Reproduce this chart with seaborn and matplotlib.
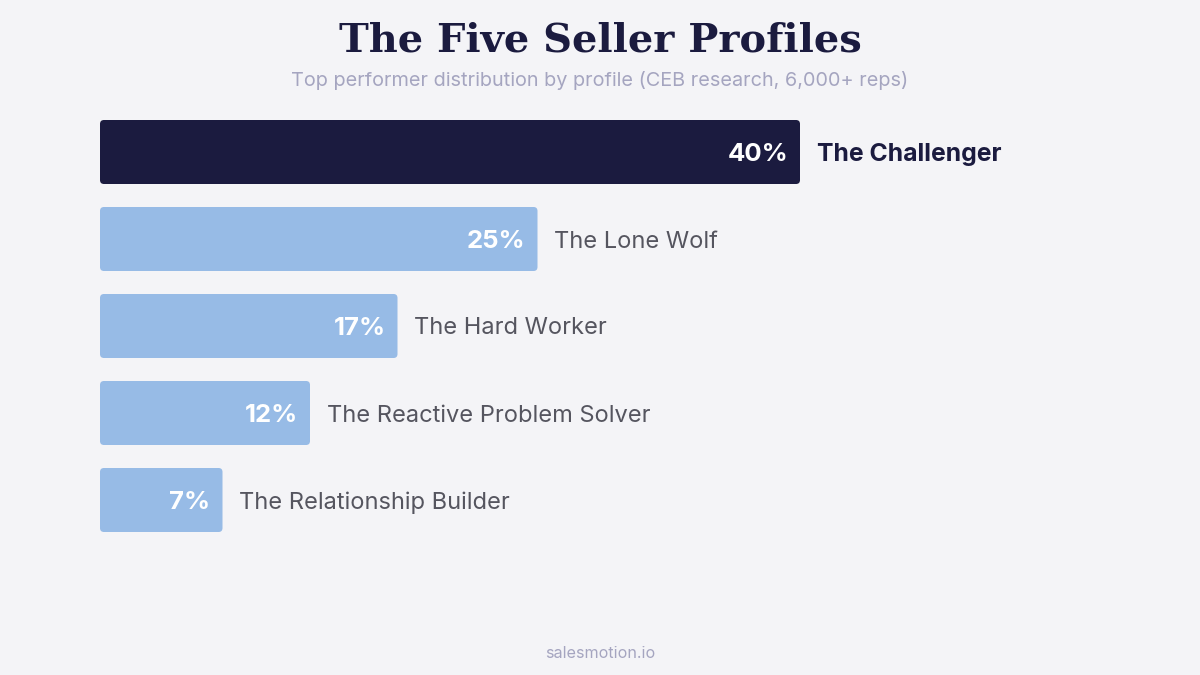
import matplotlib
matplotlib.use("Agg")
import matplotlib.pyplot as plt
import seaborn as sns
import pandas as pd
from matplotlib.patches import FancyBboxPatch

# data
profiles = ["The Challenger", "The Lone Wolf", "The Hard Worker",
            "The Reactive Problem Solver", "The Relationship Builder"]
shares = [40, 25, 17, 12, 7]
highlight = "The Challenger"

BG = "#F4F4F7"
NAVY = "#1B1B3F"
LIGHT = "#97BBE6"
GREY_TXT = "#55555F"
SUB_TXT = "#A5A5C0"

sns.set_theme(style="white")
plt.rcParams["font.family"] = ["Inter", "DejaVu Sans"]

df = pd.DataFrame({"profile": profiles, "share": shares})
palette = {p: (NAVY if p == highlight else LIGHT) for p in profiles}

fig = plt.figure(figsize=(12, 6.75), dpi=100)
fig.patch.set_facecolor(BG)
ax = fig.add_axes([100 / 1200, 1 - 543.5 / 675, 1000 / 1200, 435 / 675])
ax.set_facecolor(BG)

sns.barplot(data=df, x="share", y="profile", hue="profile", palette=palette,
            order=profiles, width=64 / 87, legend=False, ax=ax, saturation=1)

ax.set_xlim(0, 1000 / 17.5)
ax.set_ylim(4.5, -0.5)
ax.axis("off")

# swap the square bars for rounded ones
px_x = 1 / 17.5
px_y = 1 / 87
for bar in list(ax.patches):
    x, y = bar.get_x(), bar.get_y()
    w, h = bar.get_width(), bar.get_height()
    fc = bar.get_facecolor()
    bar.remove()
    ax.add_patch(FancyBboxPatch((x, y), w, h,
                                boxstyle=f"round,pad=0,rounding_size={4 * px_x}",
                                mutation_aspect=px_y / px_x,
                                facecolor=fc, edgecolor="none"))

for i, (p, v) in enumerate(zip(profiles, shares)):
    ax.annotate(f"{v}%", xy=(v, i), xytext=(-8.6, -1.8), textcoords="offset points",
                ha="right", va="center", color="white", fontsize=18.5,
                fontweight="bold")
    is_hi = p == highlight
    ax.annotate(p, xy=(v, i), xytext=(12.2, -1.8), textcoords="offset points",
                ha="left", va="center", fontsize=17.8 if is_hi else 17,
                color=NAVY if is_hi else GREY_TXT,
                fontweight="bold" if is_hi else "normal")

fig.text(0.5, 1 - 40 / 675, "The Five Seller Profiles", ha="center", va="center",
         fontsize=28.8, fontweight="bold", color=NAVY,
         family=["DejaVu Serif"])
fig.text(0.5, 1 - 80 / 675,
         "Top performer distribution by profile (CEB research, 6,000+ reps)",
         ha="center", va="center", fontsize=14.3, color=SUB_TXT)
fig.text(0.5, 1 - 653 / 675, "salesmotion.io", ha="center", va="center",
         fontsize=11.6, color=SUB_TXT)

fig.savefig("out.png", dpi=100, facecolor=BG)
